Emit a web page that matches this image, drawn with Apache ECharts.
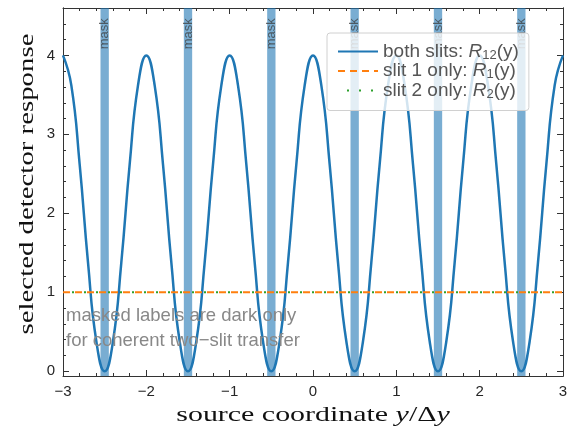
<!DOCTYPE html>
<html>
<head>
<meta charset="utf-8">
<script src="https://cdn.jsdelivr.net/npm/echarts@6/dist/echarts.min.js"></script>
<style>
  html, body { margin: 0; padding: 0; background: #fff; }
  #main { width: 579px; height: 437px; }
</style>
</head>
<body>
<div id="main"></div>
<script>
// source coordinate samples (y / Δy)
var xs = [-3.0, -2.9, -2.8, -2.7, -2.6, -2.5, -2.4, -2.3, -2.2, -2.1,
          -2.0, -1.9, -1.8, -1.7, -1.6, -1.5, -1.4, -1.3, -1.2, -1.1,
          -1.0, -0.9, -0.8, -0.7, -0.6, -0.5, -0.4, -0.3, -0.2, -0.1,
           0.0,  0.1,  0.2,  0.3,  0.4,  0.5,  0.6,  0.7,  0.8,  0.9,
           1.0,  1.1,  1.2,  1.3,  1.4,  1.5,  1.6,  1.7,  1.8,  1.9,
           2.0,  2.1,  2.2,  2.3,  2.4,  2.5,  2.6,  2.7,  2.8,  2.9,
           3.0];
// both slits response R12(y)
var r12 = [4, 3.62, 2.62, 1.38, 0.38, 0, 0.38, 1.38, 2.62, 3.62,
           4, 3.62, 2.62, 1.38, 0.38, 0, 0.38, 1.38, 2.62, 3.62,
           4, 3.62, 2.62, 1.38, 0.38, 0, 0.38, 1.38, 2.62, 3.62,
           4, 3.62, 2.62, 1.38, 0.38, 0, 0.38, 1.38, 2.62, 3.62,
           4, 3.62, 2.62, 1.38, 0.38, 0, 0.38, 1.38, 2.62, 3.62,
           4, 3.62, 2.62, 1.38, 0.38, 0, 0.38, 1.38, 2.62, 3.62,
           4];
// single slit responses (flat)
var r1 = [[-3, 1], [3, 1]];
var r2 = [[-3, 1], [3, 1]];
// masked source positions
var maskCenters = [-2.5, -1.5, -0.5, 0.5, 1.5, 2.5];
// tick values
var yMajor = [0, 1, 2, 3, 4];
var yMinor = [0.2, 0.4, 0.6, 0.8, 1.2, 1.4, 1.6, 1.8, 2.2, 2.4, 2.6, 2.8,
              3.2, 3.4, 3.6, 3.8, 4.2, 4.4];

var yMin = -0.06, yMax = 4.6;

var myChart = echarts.init(document.getElementById('main'));
var option;

var axisColor = '#333';
var tickFont = { fontSize: 15, color: '#262626', fontFamily: 'Liberation Sans' };

function xAxisBase(pos, showLabel) {
    return {
        type: 'value', position: pos, min: -3, max: 3, interval: 1,
        axisLine: { onZero: false, lineStyle: { color: axisColor, width: 1 } },
        axisTick: { inside: true, length: 6, lineStyle: { color: axisColor } },
        minorTick: { show: true, splitNumber: 5, length: 3, lineStyle: { color: axisColor } },
        axisLabel: Object.assign({
            show: showLabel, margin: 8,
            formatter: function (v) { return String(v).replace('-', '\u2212'); }
        }, tickFont),
        splitLine: { show: false }
    };
}

function yAxisBase(pos, ticks, len, showLabel) {
    return {
        type: 'value', position: pos, min: yMin, max: yMax,
        axisLine: { onZero: false, lineStyle: { color: axisColor, width: 1 } },
        axisTick: { inside: true, length: len, customValues: ticks, lineStyle: { color: axisColor } },
        axisLabel: Object.assign({ show: showLabel, margin: 8, customValues: ticks }, tickFont),
        splitLine: { show: false }
    };
}

var legendText = {
    'both slits': '{t|both slits: }{i|R}{s|12}{t|(y)}',
    'slit 1 only': '{t|slit 1 only: }{i|R}{s|1}{t|(y)}',
    'slit 2 only': '{t|slit 2 only: }{i|R}{s|2}{t|(y)}'
};

option = {
    animation: false,
    grid: { left: 63, right: 16, top: 8, bottom: 61 },
    legend: {
        data: ['both slits', 'slit 1 only', 'slit 2 only'],
        orient: 'vertical',
        left: 327, top: 33,
        padding: [9, 10, 10, 10],
        itemWidth: 40, itemHeight: 14, itemGap: 0,
        itemStyle: { opacity: 0 },
        backgroundColor: 'rgba(255,255,255,0.8)',
        borderColor: '#d0d0d0', borderWidth: 1, borderRadius: 3,
        formatter: function (name) { return legendText[name]; },
        textStyle: {
            rich: {
                t: { fontSize: 19, color: '#555', fontFamily: 'Liberation Sans', lineHeight: 20 },
                i: { fontSize: 19, color: '#555', fontFamily: 'Liberation Sans', fontStyle: 'italic', lineHeight: 20 },
                s: { fontSize: 13, color: '#555', fontFamily: 'Liberation Sans', verticalAlign: 'bottom', lineHeight: 6 }
            }
        }
    },
    xAxis: [xAxisBase('bottom', true), xAxisBase('top', false)],
    yAxis: [
        yAxisBase('left', yMajor, 6, true),
        yAxisBase('left', yMinor, 3, false),
        yAxisBase('right', yMajor, 6, false),
        yAxisBase('right', yMinor, 3, false)
    ],
    graphic: [
        {
            type: 'text', x: 66, y: 303, z: 100,
            style: {
                text: 'masked labels are dark only\nfor coherent two\u2212slit transfer',
                font: '18.5px "Liberation Sans"', fill: '#888', lineHeight: 25,
                verticalAlign: 'top'
            }
        },
        {
            type: 'text', x: 313, y: 415, scaleX: 1.36, z: 100,
            style: {
                text: '{n|source coordinate }{m|y}{n|/\u0394}{m|y}',
                align: 'center', verticalAlign: 'middle',
                rich: {
                    n: { fontSize: 22, fontFamily: 'Liberation Serif', fill: '#111' },
                    m: { fontSize: 22, fontFamily: 'Liberation Serif', fontStyle: 'italic', fill: '#111' }
                }
            }
        },
        {
            type: 'text', x: 27, y: 184, rotation: Math.PI / 2, scaleX: 1.31, z: 100,
            style: {
                text: 'selected detector response',
                font: '22px "Liberation Serif"', fill: '#111',
                align: 'center', verticalAlign: 'middle'
            }
        }
    ],
    series: [
        {
            type: 'custom',
            name: 'mask',
            z: 1,
            data: maskCenters,
            renderItem: function (params, api) {
                var x = api.value(0);
                var p0 = api.coord([x - 0.05, yMax]);
                var p1 = api.coord([x + 0.05, yMin]);
                var t = api.coord([x, 4.47]);
                return {
                    type: 'group',
                    children: [
                        {
                            type: 'rect',
                            shape: { x: p0[0], y: p0[1], width: p1[0] - p0[0], height: p1[1] - p0[1] },
                            style: { fill: 'rgba(31,119,180,0.6)' }
                        },
                        {
                            type: 'text', x: t[0], y: t[1], rotation: Math.PI / 2,
                            style: {
                                text: 'mask', font: '13px "Liberation Sans"',
                                fill: 'rgba(60,60,60,0.75)', align: 'right', verticalAlign: 'middle'
                            }
                        }
                    ]
                };
            }
        },
        {
            name: 'both slits',
            type: 'line',
            z: 3,
            smooth: true,
            symbol: 'none',
            data: xs.map(function (x, i) { return [x, r12[i]]; }),
            itemStyle: { color: '#1f77b4' },
            lineStyle: { color: '#1f77b4', width: 2.5 }
        },
        {
            name: 'slit 1 only',
            type: 'line',
            z: 4,
            symbol: 'none',
            data: r1,
            itemStyle: { color: '#ff7f0e' },
            lineStyle: { color: '#ff7f0e', width: 2, type: [7, 5] }
        },
        {
            name: 'slit 2 only',
            type: 'line',
            z: 5,
            symbol: 'none',
            data: r2,
            itemStyle: { color: '#2ca02c' },
            lineStyle: { color: '#2ca02c', width: 2, type: [2, 10], dashOffset: -9 }
        }
    ]
};
option && myChart.setOption(option);
</script>
</body>
</html>
